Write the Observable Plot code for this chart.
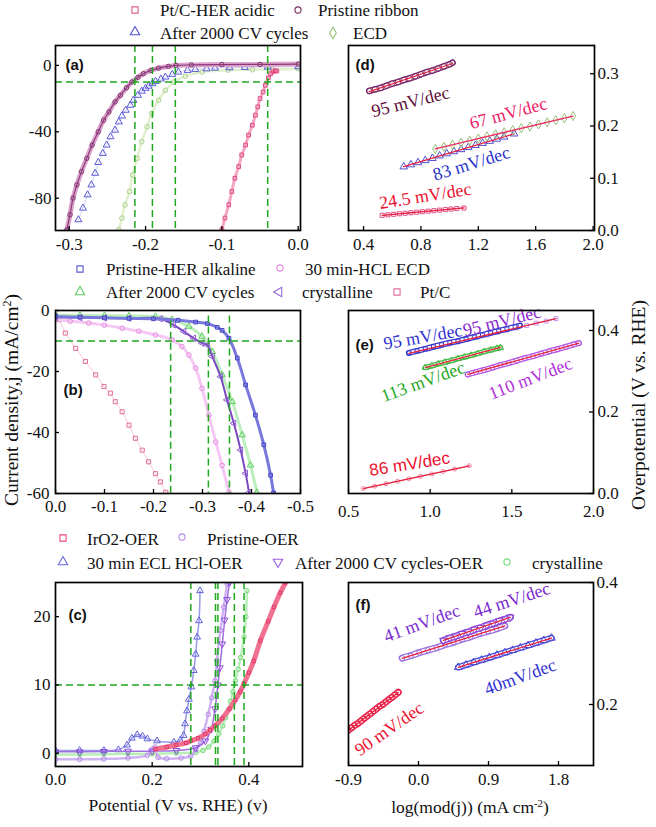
<!DOCTYPE html>
<html><head><meta charset="utf-8">
<script src="https://cdn.jsdelivr.net/npm/d3@7"></script>
<script src="https://cdn.jsdelivr.net/npm/@observablehq/plot@0.6"></script>
<style>
body{margin:0;background:#fff;}
#fig{position:relative;width:656px;height:827px;overflow:hidden;background:#fff;}
#fig svg{position:absolute;left:0;top:0;}
#fig svg g[aria-label*="axis"], #fig svg g[aria-label*="axis"] text{font-family:'Liberation Serif','Times New Roman',serif !important;font-size:17px !important;}
</style></head><body><div id="fig"></div>
<script>
// ================= DATA =================
// (a) HER acidic polarisation: [potential (V), j (mA/cm2)]
const aPtC = [[-0.100,-99],[-0.096,-92],[-0.091,-84],[-0.087,-76],[-0.083,-68],[-0.078,-61],[-0.074,-54],[-0.069,-48],[-0.065,-42],[-0.060,-36],[-0.056,-30],[-0.053,-25],[-0.050,-20],[-0.046,-16],[-0.043,-12],[-0.039,-7.5],[-0.036,-5],[-0.033,-3.8],[-0.030,-3.2],[-0.028,-3.4]];
const aPristine = [[-0.303,-99],[-0.299,-90],[-0.295,-80],[-0.290,-72],[-0.284,-64],[-0.277,-56],[-0.270,-48],[-0.262,-40],[-0.255,-33],[-0.248,-28],[-0.240,-22],[-0.233,-18],[-0.225,-13.5],[-0.218,-10],[-0.210,-7.2],[-0.203,-5],[-0.193,-3],[-0.183,-1.6],[-0.170,-0.6],[-0.160,0],[-0.140,0.3],[-0.100,0.5],[-0.050,0.6],[0.000,0.8]];
const aAfter = [[-0.288,-93],[-0.282,-86],[-0.276,-78],[-0.271,-72],[-0.266,-65],[-0.262,-58.5],[-0.256,-53],[-0.251,-48],[-0.246,-43],[-0.240,-39],[-0.235,-34],[-0.231,-30.5],[-0.226,-27],[-0.220,-24],[-0.216,-21],[-0.210,-18],[-0.205,-15.5],[-0.200,-13.8],[-0.196,-12.5],[-0.191,-11],[-0.187,-9.6],[-0.180,-8.2],[-0.174,-7],[-0.165,-5.4],[-0.157,-4],[-0.145,-3],[-0.135,-2.4],[-0.120,-2],[-0.109,-1.6],[-0.090,-1.4],[-0.070,-1.2],[-0.040,-1],[0.000,-0.8]];
const aECD = [[-0.235,-99],[-0.231,-92],[-0.227,-84],[-0.221,-76],[-0.217,-66],[-0.211,-56],[-0.205,-46],[-0.198,-37],[-0.192,-29],[-0.183,-21],[-0.174,-15],[-0.163,-10],[-0.148,-6.5],[-0.126,-4],[-0.092,-2.8],[-0.060,-2.6],[-0.034,-2.4],[0.000,-2]];
const aDashX = [-0.214,-0.191,-0.161,-0.040];
const aDashY = [-10];
const aXTicks = [-0.3,-0.2,-0.1,0.0];
const aYTicks = [0,-40,-80];

// (d) Tafel, HER acidic: [log|j|, overpotential V]
const dPristine = [[0.44,0.267],[0.48,0.270],[0.52,0.273],[0.56,0.277],[0.60,0.281],[0.64,0.284],[0.68,0.288],[0.72,0.291],[0.76,0.295],[0.80,0.299],[0.84,0.303],[0.88,0.306],[0.92,0.310],[0.96,0.314],[1.00,0.318],[1.02,0.321]];
const dECD = [[0.90,0.156],[0.96,0.160],[1.02,0.164],[1.08,0.168],[1.14,0.172],[1.20,0.176],[1.26,0.180],[1.32,0.184],[1.38,0.188],[1.44,0.192],[1.50,0.196],[1.56,0.199],[1.62,0.203],[1.68,0.207],[1.74,0.211],[1.80,0.215],[1.86,0.219]];
const dAfter = [[0.68,0.122],[0.73,0.126],[0.78,0.130],[0.83,0.134],[0.88,0.138],[0.93,0.143],[0.98,0.147],[1.03,0.151],[1.08,0.155],[1.13,0.159],[1.18,0.163],[1.23,0.167],[1.28,0.171],[1.33,0.175],[1.38,0.179],[1.45,0.185]];
const dPtC = [[0.53,0.029],[0.57,0.030],[0.61,0.031],[0.65,0.032],[0.69,0.033],[0.73,0.034],[0.77,0.035],[0.81,0.036],[0.85,0.037],[0.89,0.038],[0.93,0.039],[0.97,0.040],[1.01,0.041],[1.05,0.042],[1.10,0.043]];
const dXTicks = [0.4,0.8,1.2,1.6,2.0];
const dYTicks = [0.0,0.1,0.2,0.3];
const dLabelText = ["95 mV/dec","67 mV/dec","83 mV/dec","24.5 mV/dec"];
const dLabelAt = [[0.727,0.246],[1.409,0.224],[1.152,0.128],[0.83,0.066]];

// (b) HER alkaline polarisation
const bPtC = [[0,-1.5],[-0.007,-3],[-0.020,-7.4],[-0.041,-12.4],[-0.061,-16.7],[-0.082,-21.1],[-0.099,-24.9],[-0.112,-27.1],[-0.122,-29.9],[-0.136,-33.2],[-0.150,-37.6],[-0.163,-41.9],[-0.177,-45.8],[-0.190,-49.6],[-0.204,-53.5],[-0.214,-56.2],[-0.225,-59.6]];
const bPristine = [[0,-2],[-0.05,-2.2],[-0.10,-2.4],[-0.15,-2.6],[-0.20,-2.7],[-0.25,-3.2],[-0.286,-3.8],[-0.31,-4.3],[-0.33,-5.5],[-0.340,-6.5],[-0.354,-9.1],[-0.371,-15.6],[-0.388,-24.4],[-0.408,-34.3],[-0.425,-44],[-0.439,-54],[-0.445,-59.8]];
const bHCl = [[0,-3],[-0.03,-3.5],[-0.068,-4.1],[-0.10,-4.8],[-0.136,-5.8],[-0.17,-6.8],[-0.204,-8],[-0.238,-9.6],[-0.258,-11.8],[-0.272,-14.6],[-0.286,-18.9],[-0.299,-25.5],[-0.313,-34.3],[-0.327,-43.1],[-0.340,-50.8],[-0.354,-59.5]];
const bAfter = [[0,-1.5],[-0.05,-1.6],[-0.10,-1.7],[-0.15,-1.8],[-0.204,-2],[-0.238,-3],[-0.272,-5.2],[-0.299,-8.5],[-0.320,-13.5],[-0.340,-21.1],[-0.361,-29.9],[-0.381,-40.8],[-0.398,-50.7],[-0.411,-59.7]];
const bCryst = [[0,-2.2],[-0.05,-2.3],[-0.10,-2.4],[-0.15,-2.5],[-0.214,-2.7],[-0.241,-4.7],[-0.262,-6.9],[-0.282,-9.1],[-0.299,-10.7],[-0.310,-11.3],[-0.320,-15.1],[-0.337,-21.7],[-0.350,-29.3],[-0.364,-37],[-0.378,-45.8],[-0.388,-53.4],[-0.395,-59.7]];
const bDashX = [-0.235,-0.312,-0.355];
const bDashTop = [-3.5,-1.8,-1.8];
const bDashY = [-10];
const bXTicks = [0.0,-0.1,-0.2,-0.3,-0.4,-0.5];
const bYTicks = [0,-20,-40,-60];

// (e) Tafel, HER alkaline
const ePristine = [[0.87,0.345],[0.92,0.350],[0.97,0.355],[1.02,0.360],[1.07,0.365],[1.12,0.370],[1.17,0.374],[1.22,0.379],[1.27,0.384],[1.32,0.389],[1.37,0.394],[1.42,0.399],[1.47,0.404],[1.52,0.409],[1.55,0.412]];
const eCryst = [[0.87,0.344],[0.93,0.350],[0.99,0.355],[1.05,0.361],[1.11,0.367],[1.17,0.372],[1.23,0.378],[1.29,0.384],[1.35,0.389],[1.41,0.395],[1.47,0.401],[1.53,0.406],[1.59,0.412],[1.65,0.418],[1.71,0.423],[1.77,0.429]];
const eAfter = [[0.97,0.309],[1.01,0.313],[1.05,0.318],[1.09,0.322],[1.13,0.326],[1.17,0.331],[1.21,0.335],[1.25,0.339],[1.29,0.343],[1.33,0.348],[1.37,0.352],[1.41,0.356],[1.43,0.358]];
const eHCl = [[1.23,0.292],[1.28,0.298],[1.33,0.303],[1.38,0.309],[1.43,0.315],[1.48,0.320],[1.53,0.326],[1.58,0.332],[1.63,0.337],[1.68,0.343],[1.73,0.349],[1.78,0.354],[1.83,0.360],[1.88,0.366],[1.91,0.369]];
const ePtC = [[0.59,0.012],[0.66,0.018],[0.73,0.024],[0.80,0.030],[0.87,0.036],[0.94,0.042],[1.01,0.048],[1.08,0.054],[1.15,0.060],[1.24,0.068]];
const eXTicks = [0.5,1.0,1.5,2.0];
const eYTicks = [0.0,0.2,0.4];
const eLabelText = ["95 mV/dec","95 mV/dec","113 mV/dec","110 mV/dec","86 mV/dec"];
const eLabelAt = [[0.956,0.384],[1.44,0.423],[0.956,0.274],[1.614,0.282],[0.874,0.072]];

// (c) OER polarisation
const cIrO2 = [[0.207,0.6],[0.23,0.9],[0.25,1.2],[0.27,1.5],[0.28,1.8],[0.295,2.2],[0.31,2.8],[0.32,3.4],[0.33,4.0],[0.345,5.1],[0.36,6.5],[0.372,7.8],[0.382,9],[0.39,10.2],[0.40,11.8],[0.41,13.5],[0.424,16.5],[0.44,19.3],[0.452,21.4],[0.465,23.5],[0.476,25]];
const cPristine = [[0,-0.9],[0.05,-0.9],[0.10,-0.85],[0.15,-0.7],[0.19,-0.3],[0.20,0.6],[0.206,0.9],[0.212,-0.6],[0.23,-0.8],[0.26,-0.7],[0.28,-0.4],[0.29,0.5],[0.30,1.5],[0.307,3.2],[0.316,5.7],[0.323,8.1],[0.330,10.6],[0.334,13.6],[0.341,18],[0.348,21.4],[0.355,24.8]];
const cHCl = [[0,0.4],[0.05,0.4],[0.10,0.4],[0.13,0.5],[0.148,1.2],[0.158,2.2],[0.169,2.7],[0.18,2.5],[0.19,2.1],[0.21,1.8],[0.245,1.6],[0.258,1.9],[0.265,2.6],[0.268,4.3],[0.272,6.2],[0.276,7.9],[0.281,9.7],[0.286,12.1],[0.290,14.5],[0.293,17],[0.297,19.4],[0.299,23.8]];
const cAfter = [[0,0.2],[0.05,0.2],[0.10,0.25],[0.15,0.3],[0.20,0.3],[0.25,0.4],[0.29,0.8],[0.31,1.8],[0.322,3.5],[0.330,6.5],[0.336,10],[0.340,12.5],[0.345,16],[0.350,19.5],[0.355,22.5],[0.360,25]];
const cCryst = [[0,-0.2],[0.05,-0.2],[0.10,-0.15],[0.15,-0.1],[0.20,-0.1],[0.25,0],[0.29,0.1],[0.305,0.4],[0.317,0.9],[0.328,1.8],[0.338,2.8],[0.346,4],[0.352,5.2],[0.358,6.4],[0.362,7.6],[0.367,9],[0.372,10.6],[0.378,12.3],[0.383,14],[0.390,17],[0.394,20],[0.396,23.8]];
const cDashX = [0.280,0.331,0.336,0.370,0.390];
const cDashY = [10];
const cXTicks = [0.0,0.2,0.4];
const cYTicks = [0,10,20];

// (f) Tafel, OER
const fIrO2 = [[-0.90,0.158],[-0.86,0.162],[-0.82,0.166],[-0.78,0.169],[-0.74,0.173],[-0.70,0.177],[-0.66,0.181],[-0.62,0.185],[-0.58,0.189],[-0.54,0.193],[-0.50,0.197],[-0.46,0.200],[-0.42,0.204],[-0.38,0.208],[-0.34,0.212],[-0.30,0.216],[-0.26,0.220]];
const fPristine = [[-0.21,0.276],[-0.10,0.280],[0.01,0.285],[0.12,0.289],[0.23,0.293],[0.34,0.298],[0.45,0.302],[0.56,0.307],[0.67,0.311],[0.78,0.316],[0.89,0.320],[1.00,0.324],[1.11,0.329]];
const fAfter = [[0.32,0.305],[0.40,0.309],[0.48,0.312],[0.56,0.316],[0.64,0.319],[0.72,0.323],[0.80,0.326],[0.88,0.330],[0.96,0.333],[1.04,0.337],[1.12,0.340],[1.18,0.343]];
const fHCl = [[0.51,0.261],[0.61,0.265],[0.71,0.269],[0.81,0.273],[0.91,0.277],[1.01,0.281],[1.11,0.285],[1.21,0.289],[1.31,0.293],[1.41,0.297],[1.51,0.301],[1.61,0.305],[1.71,0.309]];
const fXTicks = [-0.9,0.0,0.9,1.8];
const fYTicks = [0.2,0.4];
const fLabelText = ["90 mV/dec","41 mV/dec","44 mV/dec","40mV/dec"];
const fLabelAt = [[-0.377,0.160],[0.043,0.333],[1.20,0.371],[1.307,0.245]];

// legends
const legendA = ["Pt/C-HER acidic","Pristine ribbon","After 2000 CV cycles","ECD"];
const legendB = ["Pristine-HER alkaline","30 min-HCL ECD","After 2000 CV cycles","crystalline","Pt/C"];
const legendC = ["IrO2-OER","Pristine-OER","30 min ECL HCl-OER","After 2000 CV cycles-OER","crystalline"];

// ================= DRAWING =================
const W = 656, H = 827;
const serif = "'Liberation Serif','Times New Roman',serif";
const sans = "'Liberation Sans',Arial,sans-serif";
const GREEN = "#1ea81e";
const X = d => d[0], Y = d => d[1];
const fmt1 = d => d.toFixed(1);
const fmt0 = d => String(d);

function series(data, o) {
  const m = [];
  if (o.band) {
    m.push(Plot.line(data, {x: X, y: Y, stroke: o.color, strokeWidth: o.band, strokeLinecap: "round", clip: true}));
    m.push(Plot.line(data, {x: X, y: Y, stroke: "#fff", strokeWidth: o.band - 2.6, strokeLinecap: "round", clip: true}));
  }
  if (o.lw) m.push(Plot.line(data, {x: X, y: Y, stroke: o.lc || o.color, strokeWidth: o.lw, strokeOpacity: o.lo ?? 1, curve: o.curve || "catmull-rom", clip: true}));
  if (o.sym) m.push(Plot.dot(data, {x: X, y: Y, symbol: o.sym, r: o.r || 2.4, stroke: o.color, strokeWidth: o.sw || 1, fill: "none", rotate: o.rot || 0, clip: true}));
  if (o.fit) m.push(Plot.linearRegressionY(data, {x: X, y: Y, stroke: o.fit, strokeWidth: 1.3, ci: 0}));
  return m;
}
function labels(texts, at, colors, rots, font, sizes) {
  const rows = texts.map((t, i) => ({t, x: at[i][0], y: at[i][1], c: colors[i], r: rots[i], f: font[i], s: sizes[i]}));
  return rows.map(d => Plot.text([d], {x: "x", y: "y", text: "t", fill: d.c, rotate: d.r, fontFamily: d.f, fontSize: d.s}));
}

function panel(cfg) {
  const [x0, x1, y0, y1] = cfg.frame;
  const fw = x1 - x0, fh = y1 - y0;
  const right = cfg.ySide === "right";
  const svg = Plot.plot({
    width: W, height: H,
    marginLeft: x0, marginRight: W - x1, marginTop: y0, marginBottom: H - y1,
    style: {background: "transparent", fontFamily: serif, fontSize: "17px", color: "#111", overflow: "visible"},
    x: {domain: cfg.xDomain, ticks: cfg.xTicks, tickFormat: cfg.xFmt, tickSize: 0, tickPadding: cfg.xPad, label: null},
    y: {domain: cfg.yDomain, ticks: cfg.yTicks, tickFormat: cfg.yFmt, tickSize: 0, tickPadding: cfg.yPad, label: null, axis: right ? "right" : "left"},
    marks: [
      ...cfg.marks,
      Plot.tickX(cfg.xTicks, {x: d => d, insetTop: fh - 4, stroke: "#000", strokeWidth: 1.3}),
      right ? Plot.tickY(cfg.yTicks, {y: d => d, insetLeft: fw - 4, stroke: "#000", strokeWidth: 1.3})
            : Plot.tickY(cfg.yTicks, {y: d => d, insetRight: fw - 4, stroke: "#000", strokeWidth: 1.3}),
      Plot.frame({stroke: "#000", strokeWidth: 1.7}),
      Plot.text([cfg.tag], {frameAnchor: "top-left", dx: cfg.tagAt[0], dy: cfg.tagAt[1], textAnchor: "start", lineAnchor: "middle", fontFamily: sans, fontWeight: "bold", fontSize: 15, fill: "#111"})
    ]
  });
  svg.style.fontFamily = serif;
  document.getElementById("fig").appendChild(svg);
}

const dash = {stroke: GREEN, strokeWidth: 1.5, strokeDasharray: "7,4"};

// (a)
panel({
  frame: [55, 300, 45, 230], xDomain: [-0.318, 0.003], yDomain: [-99.5, 12],
  xTicks: aXTicks, yTicks: aYTicks, xFmt: fmt1, yFmt: fmt0, xPad: 7, yPad: 4, ySide: "left",
  tag: "(a)", tagAt: [10, 20],
  marks: [
    ...series(aECD, {color: "#a9cf8e", lw: 2.5, lc: "#e2efcc", sym: "circle", r: 2.3}),
    ...series(aAfter, {color: "#5a5ad6", lw: 1, lc: "#b8b8f0", lo: 0.6, sym: "triangle", r: 2.6}),
    ...series(aPtC, {color: "#e04a82", lw: 3, lc: "#f4a6c4", sym: "square", r: 2.1}),
    ...series(aPristine, {color: "#80306e", lw: 5, lc: "#dca4cc", sym: "circle", r: 2.2}),
    ...series(aPristine, {lw: 1.2, lc: "#8a3a78"}),
    Plot.ruleX(aDashX, {x: d => d, ...dash}),
    Plot.ruleY(aDashY, {y: d => d, ...dash})
  ]
});

// (d)
panel({
  frame: [348, 594, 45, 230], xDomain: [0.295, 2.01], yDomain: [0, 0.354],
  xTicks: dXTicks, yTicks: dYTicks, xFmt: fmt1, yFmt: fmt1, xPad: 7, yPad: 3, ySide: "right",
  tag: "(d)", tagAt: [7, 20],
  marks: [
    ...series(dPtC, {color: "#e0508a", lw: 1, lc: "#f0a0c0", sym: "square", r: 2.3, fit: "#e8203a"}),
    ...series(dAfter, {color: "#5050d0", sym: "triangle", r: 2.8, fit: "#e8203a"}),
    ...series(dECD, {color: "#98c07a", lw: 1, lc: "#c8e0b0", sym: "diamond", r: 2.8, fit: "#f0306a"}),
    ...series(dPristine, {color: "#7a2a6a", band: 6.5, sym: "circle", r: 2.8, fit: "#e8203a"}),
    ...labels(dLabelText, dLabelAt, ["#5c0c34", "#ec2068", "#2a32c8", "#ec1030"], [-14, -15, -17, -9], [serif, serif, serif, serif], [18, 18, 18, 18])
  ]
});

// (b)
panel({
  frame: [55, 300, 310, 493], xDomain: [0, -0.5], yDomain: [-60, 0],
  xTicks: bXTicks, yTicks: bYTicks, xFmt: fmt1, yFmt: fmt0, xPad: 6, yPad: 6, ySide: "left",
  tag: "(b)", tagAt: [8, 80],
  marks: [
    ...series(bPtC, {color: "#e07096", lw: 1, lc: "#f3b3c8", lo: 0.7, sym: "square", r: 2.3, curve: "linear"}),
    ...series(bHCl, {color: "#e68ae2", lw: 3, lc: "#f5c8f3", sym: "circle", r: 2.3}),
    ...series(bAfter, {color: "#5ccc5c", lw: 3, lc: "#bdeebd", sym: "triangle", r: 2.4}),
    ...series(bCryst, {color: "#9060d4", lw: 2, lc: "#7a48c0", sym: "triangle", r: 2.4, rot: -90}),
    ...series(bPristine, {color: "#4646c6", lw: 3, lc: "#7878dc", sym: "square", r: 2.1}),
    Plot.ruleX(bDashX.map((x, i) => ({x, y1: bDashTop[i]})), {x: "x", y1: "y1", y2: -60, ...dash}),
    Plot.ruleY(bDashY, {y: d => d, ...dash})
  ]
});

// (e)
panel({
  frame: [348, 593, 310, 493], xDomain: [0.5, 2.0], yDomain: [0, 0.449],
  xTicks: eXTicks, yTicks: eYTicks, xFmt: fmt1, yFmt: fmt1, xPad: 11, yPad: 4, ySide: "right",
  tag: "(e)", tagAt: [7, 35],
  marks: [
    ...series(ePtC, {color: "#f080a8", lw: 1, lc: "#f4b0c8", sym: "circle", r: 2, fit: "#e8203a"}),
    ...series(eCryst, {color: "#c498ee", lw: 1, lc: "#c9a2ef", sym: "square", r: 2.2}),
    ...series(ePristine, {color: "#3838cc", band: 6, sym: "square", r: 2.2}),
    ...series(eCryst, {fit: "#e8203a"}),
    ...series(eAfter, {color: "#44bb44", band: 5.5, sym: "triangle", r: 2.3, fit: "#e8203a"}),
    ...series(eHCl, {color: "#b45ae6", band: 6, sym: "circle", r: 2.6, fit: "#e8203a"}),
    ...labels(eLabelText, eLabelAt, ["#2f30d0", "#8a2ad0", "#1ea81e", "#b030d8", "#ec1030"], [-10, -14, -20, -21, -9], [serif, serif, serif, serif, sans], [18, 18, 18, 18, 17])
  ]
});

// (c)
panel({
  frame: [55, 302, 582, 766], xDomain: [0, 0.511], yDomain: [-1.95, 25],
  xTicks: cXTicks, yTicks: cYTicks, xFmt: fmt1, yFmt: fmt0, xPad: 6, yPad: 5, ySide: "left",
  tag: "(c)", tagAt: [13, 33],
  marks: [
    ...series(cCryst, {color: "#74d874", lw: 2.5, lc: "#b9eeb9", sym: "circle", r: 2.2}),
    ...series(cHCl, {color: "#6262dc", lw: 1.5, lc: "#9a9ae8", sym: "triangle", r: 2.5}),
    ...series(cPristine, {color: "#b48ae8", lw: 2.5, lc: "#cfb2f2", sym: "circle", r: 2.3}),
    ...series(cAfter, {color: "#8a4ad8", lw: 1.5, lc: "#a070e0", sym: "triangle", r: 2.5, rot: 180}),
    ...series(cIrO2, {color: "#e43a6c", lw: 5, lc: "#f07090", sym: "square", r: 1.8}),
    Plot.ruleX(cDashX, {x: d => d, ...dash}),
    Plot.ruleY(cDashY, {y: d => d, ...dash})
  ]
});

// (f)
panel({
  frame: [348, 593, 582, 765], xDomain: [-0.9, 2.25], yDomain: [0.1, 0.4],
  xTicks: fXTicks, yTicks: fYTicks, xFmt: fmt1, yFmt: fmt1, xPad: 7, yPad: 3, ySide: "right",
  tag: "(f)", tagAt: [7, 23],
  marks: [
    ...series(fIrO2, {color: "#e8204a", band: 7, sym: "square", r: 2.4, fit: "#e8203a"}),
    ...series(fPristine, {color: "#9a70e0", band: 7, sym: "circle", r: 2.6, fit: "#e8203a"}),
    ...series(fAfter, {color: "#8a48d8", band: 7, sym: "triangle", r: 2.8, rot: 180, fit: "#e8203a"}),
    ...series(fHCl, {color: "#4a4ad8", band: 6.5, sym: "triangle", r: 2.8, fit: "#e8203a"}),
    ...labels(fLabelText, fLabelAt, ["#ec1030", "#7a28d0", "#7a28d0", "#3030d0"], [-35, -20, -18, -20], [serif, serif, serif, serif], [18, 18, 18, 18])
  ]
});

// ---------- overlay: legends and axis titles ----------
const ov = d3.create("svg").attr("width", W).attr("height", H);
const symMap = {square: d3.symbolSquare, circle: d3.symbolCircle, triangle: d3.symbolTriangle, diamond: d3.symbolDiamond};
const legendLayout = [
  [legendA, [["square", 0, "#e0608c", 135, 10, 160, 15.5], ["circle", 0, "#7a2a60", 298, 10, 318, 15.5], ["triangle", 0, "#5050d0", 135, 32, 160, 38.5], ["diamond", 0, "#90c070", 333, 33, 353, 38.5]]],
  [legendB, [["square", 0, "#5a5ad0", 80, 269, 106, 275], ["circle", 0, "#e58ae0", 280, 268, 305, 275], ["triangle", 0, "#5ccc5c", 80, 292, 106, 298], ["triangle", -90, "#9a6ad8", 279, 292, 302, 298], ["square", 0, "#e0709a", 397, 292, 420, 298]]],
  [legendC, [["square", 0, "#e84a78", 63, 538, 87, 545], ["circle", 0, "#b88ae8", 182, 537, 207, 545], ["triangle", 0, "#6a6ae0", 63, 562, 87, 569], ["triangle", 180, "#9a5ae0", 278, 562, 295, 569], ["circle", 0, "#7ad87a", 507, 562, 532, 569]]]
];
for (const [names, lay] of legendLayout) {
  names.forEach((name, i) => {
    const [s, rot, col, mx, my, tx, ty] = lay[i];
    ov.append("path").attr("d", d3.symbol(symMap[s], s === "circle" ? 30 : 38)())
      .attr("transform", `translate(${mx},${my}) rotate(${rot})`)
      .attr("fill", "none").attr("stroke", col).attr("stroke-width", 1.1);
    ov.append("text").attr("x", tx).attr("y", ty).attr("font-family", serif).attr("font-size", 17).attr("fill", "#111").text(name);
  });
}
function title(x, y, rot, parts, size) {
  const t = ov.append("text").attr("transform", `translate(${x},${y}) rotate(${rot})`).attr("text-anchor", "middle")
    .attr("font-family", serif).attr("font-size", size).attr("fill", "#111");
  for (const [s, sup] of parts) {
    const sp = t.append("tspan").text(s);
    if (sup) sp.attr("baseline-shift", "super").attr("font-size", size * 0.62);
  }
}
title(18, 400, -90, [["Current density,j (mA/cm"], ["2", true], [")"]], 19.5);
title(645, 405, -90, [["Overpotential (V vs. RHE)"]], 19.5);
title(178, 811, 0, [["Potential (V vs. RHE) (v)"]], 17.5);
title(470, 813, 0, [["log(mod(j)) (mA cm"], ["-2", true], [")"]], 17.5);
document.getElementById("fig").appendChild(ov.node());
</script></body></html>
